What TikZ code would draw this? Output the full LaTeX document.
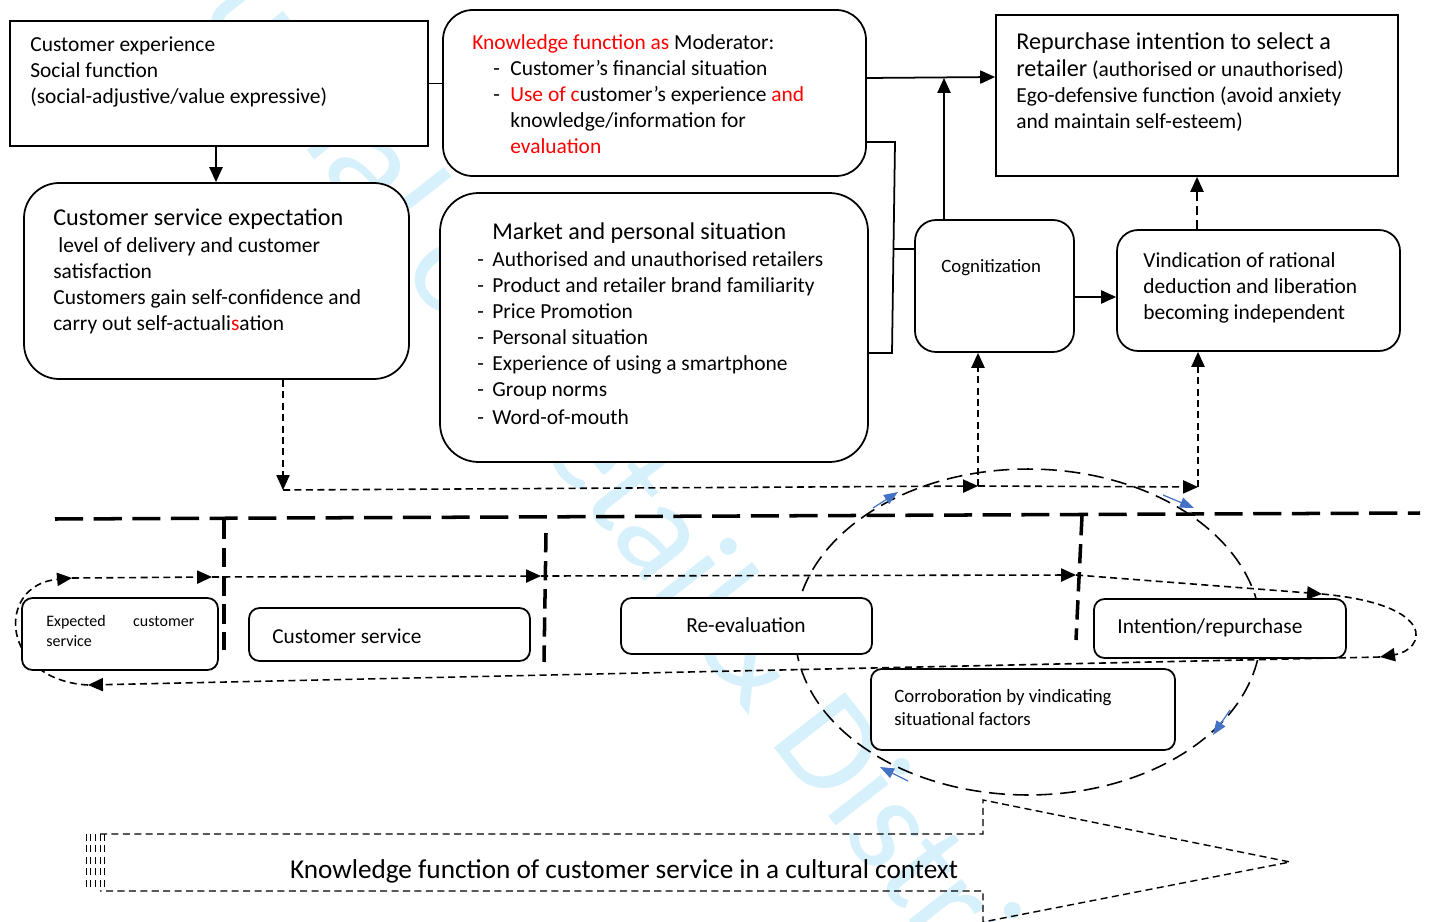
\documentclass[tikz,border=0pt]{standalone}
\usepackage{fontspec}
\setmainfont{Carlito}
\usepackage{tikz}
\usetikzlibrary{arrows.meta,fit}
\definecolor{wblue}{RGB}{68,114,196}
\definecolor{wmark}{RGB}{214,240,252}

\begin{document}
\begin{tikzpicture}[x=0.02cm, y=-0.02cm,
  sbox/.style={draw, line width=1pt, fill=white, inner sep=0pt},
  rbox/.style={sbox, rounded corners=17pt},
  mbox/.style={sbox, rounded corners=6pt},
  txt/.style={anchor=north west, inner sep=0pt, align=left, font=\fontsize{12.2}{14.8}\selectfont},
  arr/.style={line width=1pt, -{Triangle[length=8.5pt,width=7.5pt]}},
  darr/.style={arr, dash pattern=on 5pt off 3pt},
  tarr/.style={line width=0.9pt, dash pattern=on 4pt off 2.5pt, -{Triangle[length=8.5pt,width=7.5pt]}},
  tdash/.style={line width=0.8pt, dash pattern=on 4pt off 2.5pt},
  ldash/.style={line width=0.9pt, dash pattern=on 9pt off 4.5pt},
  bdash/.style={line width=2pt, dash pattern=on 16pt off 6pt},
  sdash/.style={line width=2pt, dash pattern=on 11pt off 5pt},
  barr/.style={wblue, line width=0.7pt, -{Triangle[length=8pt,width=6pt]}},
  wm/.style={text=wmark, font=\fontsize{80}{80}\selectfont, rotate=-52, inner sep=0pt}]
  \useasboundingbox (0,0) rectangle (1429,922);

  \node[wm, anchor=base east] (w1) at (690,640) {International Journal of Retail\ };
  \node[wm, anchor=base west] (w2) at (690,640) {\& Distribution Management};

  \draw[ldash] (1028,632) ellipse [x radius=4.66cm, y radius=3.26cm];
  \foreach \a/\b in {{(873,508)}/{(898,492)}, {(1163,495)}/{(1194,508)},
                     {(1230,710)}/{(1213,735)}, {(908,781)}/{(880,767)}}
    \draw[barr] \a -- \b;

  \draw[bdash] (55,519) -- (1420,513);
  \draw[sdash] (224,520) -- (224,650);
  \draw[sdash] (546,533) -- (544,662);
  \draw[sdash] (1082,516) -- (1076,640);

  \coordinate (p1) at (88,685);
  \coordinate (p2) at (72,578);
  \coordinate (p3) at (212,577);
  \coordinate (p4) at (541,576);
  \coordinate (p5) at (1076,575);
  \coordinate (p6) at (1322,594);
  \coordinate (p7) at (1380,657);
  \draw[tarr] (p7) -- (p1);
  \draw[tarr] (p1) .. controls (0,680) and (-5,585) .. (p2);
  \draw[tarr] (p2) -- (p3);
  \draw[tarr] (p3) -- (p4);
  \draw[tarr] (p4) -- (p5);
  \draw[tarr] (p5) -- (p6);
  \draw[tarr] (p6) .. controls (1440,605) and (1425,650) .. (p7);

  \node (1) [sbox, fit={(10,21) (428,146)}] {};
  \node (2) [rbox, fit={(443,10) (866,176)}] {};
  \node (3) [rbox, rounded corners=20pt, fit={(24,183) (409,379)}] {};
  \node (4) [rbox, rounded corners=22pt, fit={(440,193) (868,462)}] {};
  \node (5) [sbox, fit={(996,15) (1398,176)}] {};
  \node (6) [rbox, rounded corners=12pt, fit={(915,220) (1074,352)}] {};
  \node (7) [rbox, rounded corners=12pt, fit={(1117,230) (1400,351)}] {};
  \node (8) [mbox, fit={(22,598) (218,670)}] {};
  \node (9) [mbox, fit={(249,608) (530,661)}] {};
  \node (10) [mbox, fit={(621,598) (872,654)}] {};
  \node (11) [mbox, fit={(1094,599) (1346,658)}] {};
  \node (12) [mbox, fit={(871,669) (1175,750)}] {};

  \node[txt] (1a) at (30,36)
    {Customer experience\\Social function\\(social-adjustive/value expressive)};
  \node[txt] (2a) at (472,34)
    {\textcolor{red}{Knowledge function as} Moderator:\\
     \hspace*{0.42cm}\makebox[0.34cm][l]{-}Customer’s financial situation\\
     \hspace*{0.42cm}\makebox[0.34cm][l]{-}\textcolor{red}{Use of c}ustomer’s experience \textcolor{red}{and}\\
     \hspace*{0.76cm}knowledge/information for\\
     \hspace*{0.76cm}\textcolor{red}{evaluation}};
  \node[txt] (3a) at (53,208)
    {{\fontsize{13.75}{14.8}\selectfont Customer service expectation}\\[1pt]
     \hspace*{0.1cm}level of delivery and customer\\
     satisfaction\\
     Customers gain self-confidence and\\
     carry out self-actuali\textcolor{red}{s}ation};
  \node[txt] (4a) at (477,222)
    {\hspace*{0.3cm}{\fontsize{13.7}{14.8}\selectfont Market and personal situation}\\[1pt]
     \makebox[0.3cm][l]{-}Authorised and unauthorised retailers\\
     \makebox[0.3cm][l]{-}Product and retailer brand familiarity\\
     \makebox[0.3cm][l]{-}Price Promotion\\
     \makebox[0.3cm][l]{-}Personal situation\\
     \makebox[0.3cm][l]{-}Experience of using a smartphone\\
     \makebox[0.3cm][l]{-}Group norms\\[1pt]
     \makebox[0.3cm][l]{-}Word-of-mouth};
  \node[txt] (5a) at (1016,32)
    {{\fontsize{13.75}{14.8}\selectfont Repurchase intention to select a}\\[1pt]
     {\fontsize{13.75}{14.8}\selectfont retailer} (authorised or unauthorised)\\
     Ego-defensive function (avoid anxiety\\
     and maintain self-esteem)};
  \node[txt, font=\fontsize{10.7}{12}\selectfont] (6a) at (941,259) {Cognitization};
  \node[txt] (7a) at (1143,252)
    {Vindication of rational\\deduction and liberation\\becoming independent};
  \node[txt, font=\fontsize{9.1}{11.4}\selectfont] (8a) at (46,615)
    {\makebox[2.96cm][s]{Expected\hfill customer}\\service};
  \node[txt, anchor=west, font=\fontsize{12.1}{14}\selectfont] (9a) at (272,636) {Customer service};
  \node[inner sep=0pt, font=\fontsize{12.2}{14}\selectfont] (10a) at (746,625) {Re-evaluation};
  \node[txt, anchor=west, font=\fontsize{12.2}{14}\selectfont] (11a) at (1117,628) {Intention/repurchase};
  \node[txt, font=\fontsize{10.7}{13}\selectfont] (12a) at (894,689)
    {Corroboration by vindicating\\situational factors};

  \draw[arr] (1.south -| 216,0) -- (3.north -| 216,0);
  \draw[line width=1pt] (1.east) -- (1.east -| 2.west);
  \coordinate (j1) at (944,78);
  \draw[arr] (2.east |- 0,78) -- (5.west |- 0,77);
  \draw[arr] (6.north -| j1) -- (j1);
  \coordinate (b1) at (895,142);
  \coordinate (b2) at (892,353);
  \coordinate (b3) at (893,249);
  \draw[line width=1pt] (2.east |- b1) -- (b1) -- (b2) -- (4.east |- b2);
  \draw[line width=1pt] (b3) -- (6.west |- b3);
  \draw[arr] (6.east |- 0,297) -- (7.west |- 0,297);
  \draw[darr] (5.south |- 7.north) -- (5.south);

  \coordinate (d1) at (283,490);
  \coordinate (d2) at (978,486);
  \coordinate (d3) at (1198,487);
  \draw[tarr] (3.south -| d1) -- (d1);
  \draw[tarr] (d1) -- (d2);
  \draw[tarr] (d2) -- (d3);
  \draw[tarr] (d2) -- (6.south -| d2);
  \draw[tarr] (d3) -- (7.south -| d3);

  \draw[tdash] (100,834) -- (983,834) -- (983,800) -- (1290,862) -- (983,922) -- (983,891) -- (100,891);
  \foreach \x in {86,90,95,100,104}
    \draw[tdash, line width=0.5pt] (\x,834) -- (\x,891);
  \node[font=\fontsize{15.5}{18}\selectfont] (13) at (624,871)
    {Knowledge function of customer service in a cultural context};
\end{tikzpicture}
\end{document}
